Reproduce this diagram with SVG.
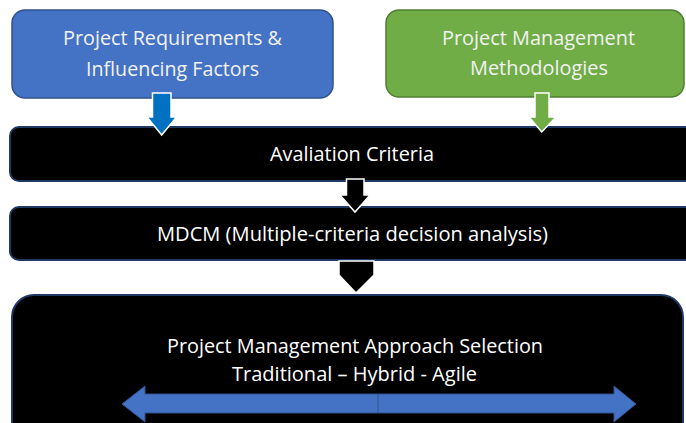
<svg xmlns="http://www.w3.org/2000/svg" width="686" height="423" viewBox="0 0 686 423">
  <style>
    .t { font-family: "Open Sans", "Noto Sans", "Liberation Sans", sans-serif; font-size: 20px; text-anchor: middle; }
    .tl { fill: #F2F2F2; }
    .tw { fill: #FFFFFF; }
    .blk { fill: #000000; stroke: #1F3864; stroke-width: 2; }
    .arw { stroke: #FFFFFF; stroke-width: 1.5; stroke-linejoin: miter; }
  </style>
  <rect width="686" height="423" fill="#FFFFFF"/>
  <g id="node-requirements">
    <rect x="12" y="10" width="321" height="88" rx="13" fill="#4472C4" stroke="#2F528F" stroke-width="1.5"/>
    <text class="t tl" x="172.5" y="45" textLength="219" lengthAdjust="spacingAndGlyphs">Project Requirements &amp;</text>
    <text class="t tl" x="172.5" y="76" textLength="173" lengthAdjust="spacingAndGlyphs">Influencing Factors</text>
  </g>
  <g id="node-methodologies">
    <rect x="386" y="10" width="298" height="87" rx="13" fill="#70AD47" stroke="#507E32" stroke-width="1.5"/>
    <text class="t tl" x="538.5" y="45" textLength="193" lengthAdjust="spacingAndGlyphs">Project Management</text>
    <text class="t tl" x="539" y="75" textLength="138" lengthAdjust="spacingAndGlyphs">Methodologies</text>
  </g>
  <g id="node-criteria">
    <rect class="blk" x="10" y="127" width="690" height="54" rx="9"/>
    <text class="t tw" x="352" y="161" textLength="164" lengthAdjust="spacingAndGlyphs">Avaliation Criteria</text>
  </g>
  <g id="node-mdcm">
    <rect class="blk" x="10" y="207" width="690" height="53" rx="9"/>
    <text class="t tw" x="352.5" y="241" textLength="391" lengthAdjust="spacingAndGlyphs">MDCM (Multiple-criteria decision analysis)</text>
  </g>
  <g id="node-selection">
    <rect class="blk" x="12" y="295" width="671" height="160" rx="22"/>
    <text class="t tw" x="355" y="353" textLength="376" lengthAdjust="spacingAndGlyphs">Project Management Approach Selection</text>
    <text class="t tw" x="354.5" y="381" textLength="245" lengthAdjust="spacingAndGlyphs">Traditional – Hybrid - Agile</text>
    <polygon points="122,404 145,386 145,394 614,394 614,386 636,404 614,422 614,413 145,413 145,422" fill="#4472C4" stroke="#2F528F" stroke-width="1"/>
    <line x1="378" y1="394" x2="378" y2="413" stroke="#2F528F" stroke-width="1"/>
  </g>
  <g id="connectors">
    <polygon class="arw" points="152.5,93 171,93 171,117 176.5,117 161.7,135 147,117 152.5,117" fill="#0070C0"/>
    <polygon class="arw" points="535,93 549,93 549,117 556,117 541.7,132 529,117 535,117" fill="#70AD47"/>
    <polygon class="arw" points="346.5,179 364,179 364,195 370,195 355,212 340,195 346.5,195" fill="#000000"/>
    <polygon class="arw" points="339,261 374,261 374,275 356,293 339,275" fill="#000000"/>
  </g>
</svg>
